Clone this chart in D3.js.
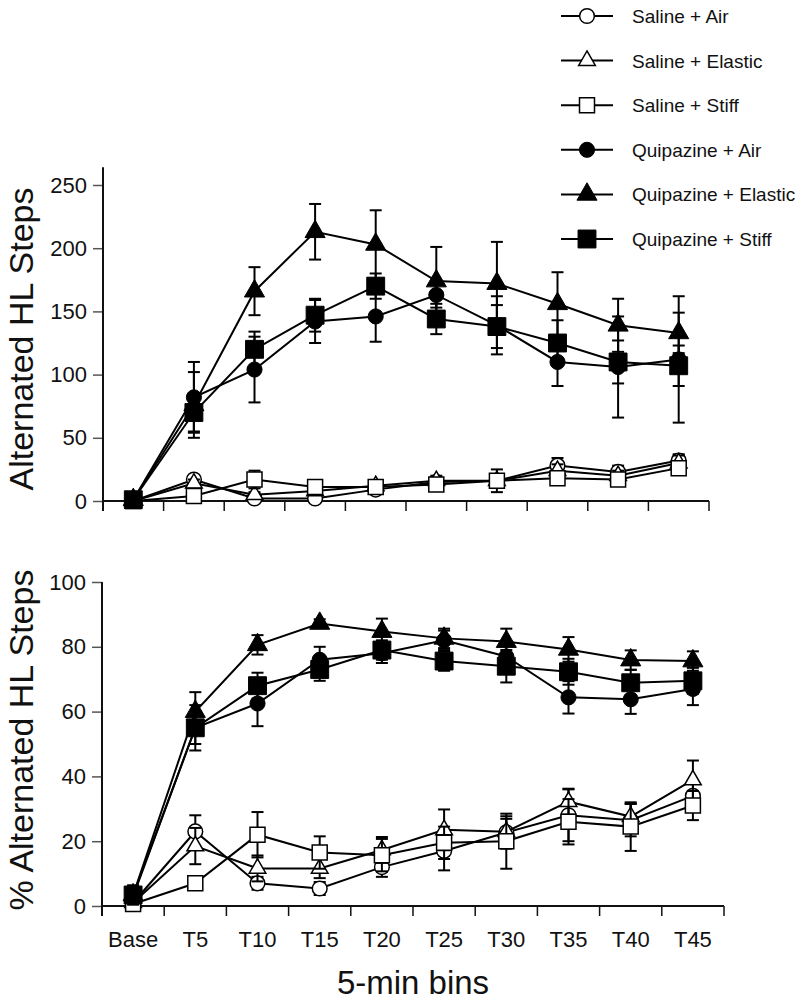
<!DOCTYPE html>
<html>
<head>
<meta charset="utf-8">
<script src="https://cdn.jsdelivr.net/npm/d3@7"></script>
<style>
  html, body { margin: 0; padding: 0; background: #fff; }
  svg { display: block; font-family: "Liberation Sans", Arial, Helvetica, sans-serif; }
</style>
</head>
<body>
<svg id="chart" width="800" height="1003"></svg>
<script>
// ---------- DATA ----------
const categories = ["Base", "T5", "T10", "T15", "T20", "T25", "T30", "T35", "T40", "T45"];
const seriesNames = ["Saline + Air", "Saline + Elastic", "Saline + Stiff",
                     "Quipazine + Air", "Quipazine + Elastic", "Quipazine + Stiff"];

// Top panel: Alternated HL Steps (mean, SEM)
const stepsSalineAir      = [0, 17, 2, 2, 9, 15, 16, 28, 23, 32];
const stepsSalineAirErr   = [0, 3, 2, 1, 2, 3, 3, 6, 5, 5];
const stepsSalineElastic  = [0, 14, 5, 8, 12, 16, 16, 24, 20, 30];
const stepsSalineElasticErr = [0, 3, 2, 2, 3, 4, 4, 5, 4, 6];
const stepsSalineStiff    = [0, 4, 17, 11, 11, 13, 16, 18, 17, 26];
const stepsSalineStiffErr = [0, 2, 7, 3, 5, 5, 9, 4, 3, 4];
const stepsQuipAir        = [1, 82, 104, 142, 146, 163, 139, 110, 106, 112];
const stepsQuipAirErr     = [1, 28, 26, 17, 20, 10, 23, 19, 40, 50];
const stepsQuipElastic    = [1, 76, 166, 213, 203, 174, 172, 156, 139, 133];
const stepsQuipElasticErr = [1, 26, 19, 22, 27, 27, 33, 25, 21, 16];
const stepsQuipStiff      = [1, 70, 120, 147, 170, 144, 138, 125, 110, 107];
const stepsQuipStiffErr   = [1, 15, 14, 13, 10, 12, 17, 18, 17, 16];

// Bottom panel: % Alternated HL Steps (mean, SEM)
const pctSalineAir        = [1, 23, 7, 5.4, 12, 17, 22.7, 28, 26.5, 34];
const pctSalineAirErr     = [1, 5, 2, 2, 3, 6, 5, 8, 5, 4];
const pctSalineElastic    = [1, 18.5, 11.6, 11.6, 17.3, 23.5, 22.9, 32.2, 27.6, 38.9];
const pctSalineElasticErr = [1, 5.6, 4, 3, 4, 6.3, 4, 4, 4, 6];
const pctSalineStiff      = [0.6, 7, 22, 16.5, 15.7, 19.5, 20, 26, 24.5, 31];
const pctSalineStiffErr   = [0.5, 1, 7, 5, 5, 5, 8.5, 7, 7.5, 4.5];
const pctQuipAir          = [3, 55, 62.5, 76, 78, 82, 77, 64.4, 63.8, 67];
const pctQuipAirErr       = [1, 5, 7, 4, 3, 3, 4, 5, 4.5, 5];
const pctQuipElastic      = [3.4, 60, 80.6, 87.2, 84.7, 82.6, 81.6, 79.2, 75.9, 75.6];
const pctQuipElasticErr   = [1, 6, 3, 1.3, 4, 3, 4, 3.8, 3, 3];
const pctQuipStiff        = [3.4, 55, 68, 73, 79, 75.6, 74, 72.3, 68.9, 69.5];
const pctQuipStiffErr     = [3, 7, 4, 3.5, 3, 3, 5, 4, 4, 4];

const topTicks = [0, 50, 100, 150, 200, 250];
const bottomTicks = [0, 20, 40, 60, 80, 100];

// ---------- STYLE ----------
const markerStyle = [
  { shape: d3.symbolCircle,   size: 170, fill: "#fff" },
  { shape: d3.symbolTriangle, size: 120, fill: "#fff" },
  { shape: d3.symbolSquare,   size: 225, fill: "#fff" },
  { shape: d3.symbolCircle,   size: 180, fill: "#000" },
  { shape: d3.symbolTriangle, size: 175, fill: "#000" },
  { shape: d3.symbolSquare,   size: 320, fill: "#000" }
];

const svg = d3.select("#chart");

function drawPanel(cfg) {
  const x = d3.scaleBand().domain(categories).range([cfg.x0, cfg.x1]).padding(0);
  const y = d3.scaleLinear().domain([0, cfg.yMax]).range([cfg.y0, cfg.y1]);
  const g = svg.append("g");

  // y axis
  const yAxis = d3.axisLeft(y).tickValues(cfg.ticks).tickSize(10).tickPadding(6).tickSizeOuter(0);
  const ya = g.append("g").attr("transform", `translate(${cfg.x0},0)`).call(yAxis);
  ya.select(".domain").remove();
  ya.selectAll(".tick line").attr("stroke", "#555").attr("stroke-width", 1.5);
  ya.selectAll(".tick text").attr("font-size", 22).attr("fill", "#111")
    .attr("font-family", "'Liberation Sans', Arial, sans-serif");
  g.append("line")
    .attr("x1", cfg.x0).attr("x2", cfg.x0)
    .attr("y1", y(cfg.axisTop)).attr("y2", y(0) + 10)
    .attr("stroke", "#111").attr("stroke-width", 2);

  // x axis
  g.append("line")
    .attr("x1", cfg.x0).attr("x2", cfg.x1)
    .attr("y1", y(0)).attr("y2", y(0))
    .attr("stroke", "#111").attr("stroke-width", 2);
  const boundaries = categories.map(c => x(c)).concat([x(categories[categories.length - 1]) + x.bandwidth()]);
  g.selectAll(".xtick").data(boundaries).enter().append("line")
    .attr("x1", d => d).attr("x2", d => d)
    .attr("y1", y(0)).attr("y2", y(0) + 10)
    .attr("stroke", "#111").attr("stroke-width", 1.5);
  if (cfg.xLabels) {
    g.selectAll(".xlab").data(categories).enter().append("text")
      .attr("x", d => x(d) + x.bandwidth() / 2)
      .attr("y", y(0) + 41)
      .attr("text-anchor", "middle")
      .attr("font-size", 22).attr("fill", "#111")
      .text(d => d);
  }

  // y label
  g.append("text")
    .attr("transform", `translate(33,${cfg.labelY}) rotate(-90)`)
    .attr("text-anchor", "middle")
    .attr("font-size", 34).attr("fill", "#111")
    .text(cfg.yLabel);

  const cx = d => x(d) + x.bandwidth() / 2;

  cfg.series.forEach((s, si) => {
    const st = markerStyle[si];
    const pts = categories.map((c, i) => ({ c, v: s.values[i], e: s.err[i] }));
    // line
    g.append("path").datum(pts)
      .attr("fill", "none").attr("stroke", "#000").attr("stroke-width", 2)
      .attr("d", d3.line().x(d => cx(d.c)).y(d => y(d.v)));
    // error bars
    const eb = g.append("g").attr("stroke", "#000").attr("stroke-width", 2);
    pts.forEach(d => {
      if (d.e <= 0) return;
      const xc = cx(d.c);
      eb.append("line").attr("x1", xc).attr("x2", xc).attr("y1", y(d.v - d.e)).attr("y2", y(d.v + d.e));
      eb.append("line").attr("x1", xc - 6).attr("x2", xc + 6).attr("y1", y(d.v + d.e)).attr("y2", y(d.v + d.e));
      eb.append("line").attr("x1", xc - 6).attr("x2", xc + 6).attr("y1", y(d.v - d.e)).attr("y2", y(d.v - d.e));
    });
    // markers
    g.selectAll(null).data(pts).enter().append("path")
      .attr("transform", d => `translate(${cx(d.c)},${y(d.v)})`)
      .attr("d", d3.symbol().type(st.shape).size(st.size))
      .attr("fill", st.fill).attr("stroke", "#000").attr("stroke-width", st.fill === "#fff" ? 1.5 : 1);
  });
}

drawPanel({
  x0: 103, x1: 709, y0: 501, y1: 185, yMax: 250, axisTop: 264,
  ticks: topTicks, xLabels: false, yLabel: "Alternated HL Steps", labelY: 339,
  series: [
    { values: stepsSalineAir, err: stepsSalineAirErr },
    { values: stepsSalineElastic, err: stepsSalineElasticErr },
    { values: stepsSalineStiff, err: stepsSalineStiffErr },
    { values: stepsQuipAir, err: stepsQuipAirErr },
    { values: stepsQuipElastic, err: stepsQuipElasticErr },
    { values: stepsQuipStiff, err: stepsQuipStiffErr }
  ]
});

drawPanel({
  x0: 102, x1: 724, y0: 906, y1: 582, yMax: 100, axisTop: 100,
  ticks: bottomTicks, xLabels: true, yLabel: "% Alternated HL Steps", labelY: 740,
  series: [
    { values: pctSalineAir, err: pctSalineAirErr },
    { values: pctSalineElastic, err: pctSalineElasticErr },
    { values: pctSalineStiff, err: pctSalineStiffErr },
    { values: pctQuipAir, err: pctQuipAirErr },
    { values: pctQuipElastic, err: pctQuipElasticErr },
    { values: pctQuipStiff, err: pctQuipStiffErr }
  ]
});

// x axis title
svg.append("text")
  .attr("x", 413).attr("y", 994)
  .attr("text-anchor", "middle")
  .attr("font-size", 33).attr("fill", "#111")
  .text("5-min bins");

// legend
const legendY = d3.scalePoint().domain(seriesNames).range([16, 239]);
const lg = svg.append("g");
seriesNames.forEach((name, i) => {
  const st = markerStyle[i];
  const yy = legendY(name);
  lg.append("line").attr("x1", 561).attr("x2", 613).attr("y1", yy).attr("y2", yy)
    .attr("stroke", "#000").attr("stroke-width", 2);
  lg.append("path").attr("transform", `translate(587,${yy})`)
    .attr("d", d3.symbol().type(st.shape).size(st.size))
    .attr("fill", st.fill).attr("stroke", "#000").attr("stroke-width", st.fill === "#fff" ? 1.5 : 1);
  lg.append("text").attr("x", 632).attr("y", yy + 7)
    .attr("font-size", 19).attr("fill", "#111").text(name);
});
</script>
</body>
</html>
